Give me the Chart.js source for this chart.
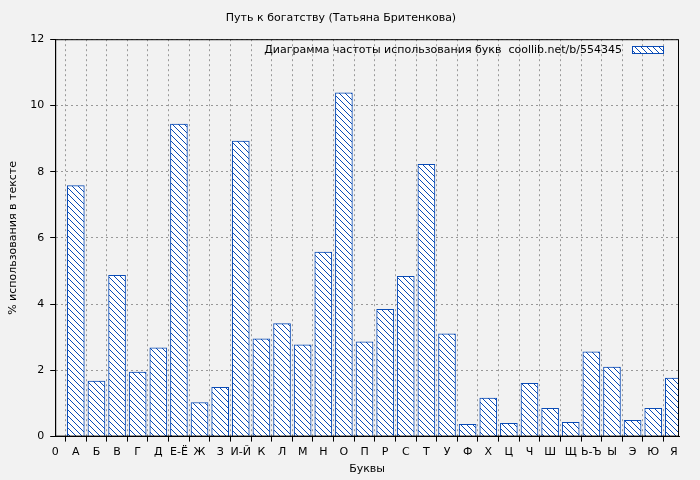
<!DOCTYPE html>
<html><head><meta charset="utf-8">
<script src="https://cdn.jsdelivr.net/npm/chart.js@4"></script>
<style>html,body{margin:0;background:#f2f2f2}#w{width:700px;height:480px}</style>
</head><body><div id="w"><canvas id="c"></canvas></div>
<script>
const categories=['0','А','Б','В','Г','Д','Е-Ё','Ж','З','И-Й','К','Л','М','Н','О','П','Р','С','Т','У','Ф','Х','Ц','Ч','Ш','Щ','Ь-Ъ','Ы','Э','Ю','Я'];
const values=[7.58,1.68,4.87,1.95,2.68,9.44,1.03,1.49,8.92,2.95,3.41,2.77,5.57,10.38,2.86,3.84,4.84,8.22,3.1,0.37,1.16,0.40,1.61,0.85,0.43,2.56,2.1,0.49,0.85,1.77];
const yTicks=[0,2,4,6,8,10,12];
const legendText='Диаграмма частоты использования букв  coollib.net/b/554345';
const blue='#0a4bb5';
function hatch(){const p=document.createElement('canvas');p.width=6;p.height=6;const g=p.getContext('2d');
g.fillStyle='#fff';g.fillRect(0,0,6,6);g.strokeStyle=blue;g.lineWidth=1;
g.beginPath();g.moveTo(0,0);g.lineTo(6,6);g.moveTo(-3,3);g.lineTo(3,9);g.moveTo(3,-3);g.lineTo(9,3);g.stroke();
return g.createPattern(p,'repeat');}
const pat=hatch();
const F='DejaVu Sans';
const legendPlugin={id:'lg',afterDraw(ch){const c=ch.ctx,a=ch.chartArea;c.save();
c.font='11px '+F;c.fillStyle='#000';c.textAlign='right';c.textBaseline='middle';
c.fillText(legendText,a.right-57,50);c.fillStyle=pat;c.fillRect(a.right-47,46,32,8);
c.strokeStyle=blue;c.strokeRect(a.right-46.5,46.5,31,7);
c.strokeStyle='#000';c.lineWidth=1;c.strokeRect(a.left+0.5,a.top+0.5,a.right-a.left-1,a.bottom-a.top-1);c.restore();}};
new Chart(document.getElementById('c'),{type:'bar',
data:{datasets:[{data:values.map((v,i)=>({x:i+1,y:v})),backgroundColor:pat,borderColor:blue,borderWidth:1,barThickness:17}]},
options:{responsive:true,maintainAspectRatio:false,animation:false,
layout:{padding:{left:3,right:21,top:0,bottom:0}},
plugins:{legend:{display:false},tooltip:{enabled:false},
title:{display:true,text:'Путь к богатству (Татьяна Бритенкова)',color:'#000',font:{family:F,size:11,weight:'normal'},padding:{top:12,bottom:14}}},
scales:{x:{type:'linear',min:0,max:30.25,offset:false,
afterBuildTicks(s){s.ticks=categories.map((_,i)=>({value:i}));},
ticks:{autoSkip:false,maxRotation:0,color:'#000',font:{family:F,size:11},padding:4,callback:(v)=>categories[v]??''},
grid:{color:'#999',tickColor:'#000',tickLength:5,drawOnChartArea:true},border:{display:true,color:'#000',dash:[2,3]},
title:{display:true,text:'Буквы',color:'#000',font:{family:F,size:11},padding:{top:0}}},
y:{min:0,max:12,afterBuildTicks(s){s.ticks=yTicks.map(v=>({value:v}));},
ticks:{color:'#000',font:{family:F,size:11},padding:6},
grid:{color:'#999',tickColor:'#000',tickLength:5},border:{display:true,color:'#000',dash:[2,3]},
title:{display:true,text:'% использования в тексте',color:'#000',font:{family:F,size:11},padding:{bottom:4}}}}},
plugins:[legendPlugin,{id:'bg',beforeDraw(ch){ch.ctx.fillStyle='#f2f2f2';ch.ctx.fillRect(0,0,ch.width,ch.height);}}]});
</script></body></html>
